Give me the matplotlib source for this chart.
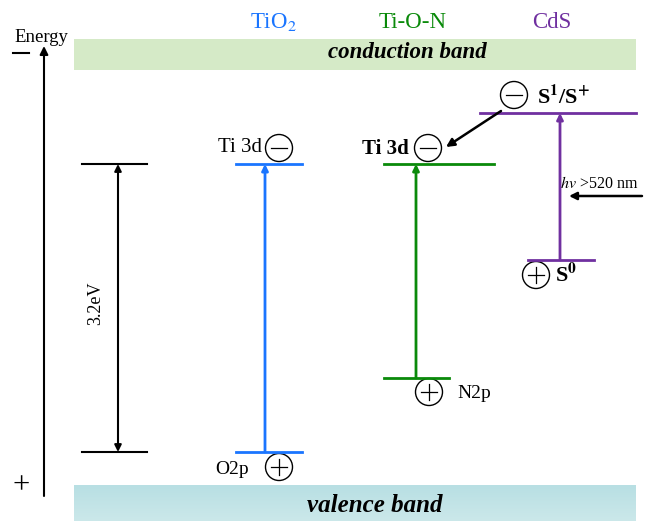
import matplotlib
matplotlib.use("Agg")
import matplotlib.pyplot as plt
from matplotlib.patches import Rectangle, Circle
from matplotlib.colors import LinearSegmentedColormap
import numpy as np

plt.rcParams['font.family'] = ['Liberation Serif', 'DejaVu Serif']
plt.rcParams['mathtext.fontset'] = 'stix'

# ---- data (diagram coordinates, y grows downward = lower energy) ----
materials = ['TiO$_2$', 'Ti-O-N', 'CdS']
colors = ['#1a75ff', '#0a8a0a', '#7030a0']
upper_levels = [164, 164, 113]          # Ti 3d, Ti 3d, S1/S+
lower_levels = [452, 378, 260]          # O2p, N2p, S0
upper_spans = [(236, 302), (384, 494), (480, 636)]
lower_spans = [(236, 302), (384, 449), (528, 594)]
transition_x = [265, 416, 560]
title_x = [273, 413, 552]
ref_levels = [164, 452]                 # 3.2 eV reference gap
ref_span = (82, 147)
ref_x = 118
ref_label = '3.2eV'

fig = plt.figure(figsize=(6.49, 5.21), dpi=100)
ax = fig.add_axes([0, 0, 1, 1])
ax.set_xlim(0, 649)
ax.set_ylim(521, 0)
ax.axis('off')

# bands
ax.add_patch(Rectangle((74, 39), 562, 31, color='#d5eac7', lw=0))
ax.text(407, 52, 'conduction band', ha='center', va='center', fontsize=16.5,
        fontweight='bold', fontstyle='italic')
grad = np.linspace(0, 1, 50).reshape(-1, 1)
cm = LinearSegmentedColormap.from_list('vb', ['#b8dfe3', '#cbe8ea'])
ax.imshow(grad, extent=(74, 636, 521, 485), cmap=cm, aspect='auto', zorder=0)
ax.text(375, 506, 'valence band', ha='center', va='center', fontsize=18,
        fontweight='bold', fontstyle='italic')

# energy axis
ax.annotate('', xy=(44, 46), xytext=(44, 496),
            arrowprops=dict(arrowstyle='-|>', color='black', lw=1.5,
                            mutation_scale=12, shrinkA=0, shrinkB=0))
ax.text(41, 38, 'Energy', ha='center', va='center', fontsize=13.5)
ax.plot([13, 29], [53, 53], color='black', lw=1.5)
ax.text(21, 486, '+', ha='center', va='center', fontsize=22)

# reference 3.2 eV gap
for y in ref_levels:
    ax.plot(ref_span, [y, y], color='black', lw=1.5)
ax.annotate('', xy=(ref_x, ref_levels[0]), xytext=(ref_x, ref_levels[1]),
            arrowprops=dict(arrowstyle='<|-|>', color='black', lw=1.5,
                            mutation_scale=10, shrinkA=0, shrinkB=0))
ax.text(96, 303, ref_label, rotation=90, ha='center', va='center', fontsize=13)

def circled(x, y, sign, r=13.5):
    ax.add_patch(Circle((x, y), r, fill=False, ec='black', lw=1.0))
    ax.plot([x - 8, x + 8], [y, y], color='black', lw=0.9)
    if sign == '+':
        ax.plot([x, x], [y - 8, y + 8], color='black', lw=0.9)

for i, m in enumerate(materials):
    c = colors[i]
    ax.plot(upper_spans[i], [upper_levels[i]] * 2, color=c, lw=2)
    ax.plot(lower_spans[i], [lower_levels[i]] * 2, color=c, lw=2)
    ax.annotate('', xy=(transition_x[i], upper_levels[i]),
                xytext=(transition_x[i], lower_levels[i]),
                arrowprops=dict(arrowstyle='-|>', color=c, lw=2,
                                mutation_scale=9, shrinkA=0, shrinkB=0))
    ax.text(title_x[i], 22, m, ha='center', va='center', fontsize=16.5, color=c)

# TiO2 labels
ax.text(240, 148, 'Ti 3d', ha='center', va='center', fontsize=15)
circled(279, 148, '-')
ax.text(232, 469, 'O2p', ha='center', va='center', fontsize=14)
circled(279, 467, '+')

# Ti-O-N labels
ax.text(385, 149, 'Ti 3d', ha='center', va='center', fontsize=15, fontweight='bold')
circled(428, 148, '-')
circled(429, 392, '+')
ax.text(474, 394, 'N2p', ha='center', va='center', fontsize=14)

# CdS labels
circled(514, 95, '-')
ax.text(564, 97, r'S$^{\mathbf{1}}$/S$^{\mathbf{+}}$', ha='center', va='center',
        fontsize=16, fontweight='bold')
circled(536, 275, '+')
ax.text(566, 275, r'S$^{\mathbf{0}}$', ha='center', va='center', fontsize=16,
        fontweight='bold')

# electron transfer arrow
ax.annotate('', xy=(446, 147), xytext=(501, 111),
            arrowprops=dict(arrowstyle='-|>', color='black', lw=1.8,
                            mutation_scale=12, shrinkA=0, shrinkB=0))

# light
ax.text(599, 184, r'$hv$ >520 nm', ha='center', va='center', fontsize=11.5)
ax.annotate('', xy=(569, 196), xytext=(642, 196),
            arrowprops=dict(arrowstyle='-|>', color='black', lw=1.8,
                            mutation_scale=11, shrinkA=0, shrinkB=0))

fig.savefig('out.png', dpi=100)
